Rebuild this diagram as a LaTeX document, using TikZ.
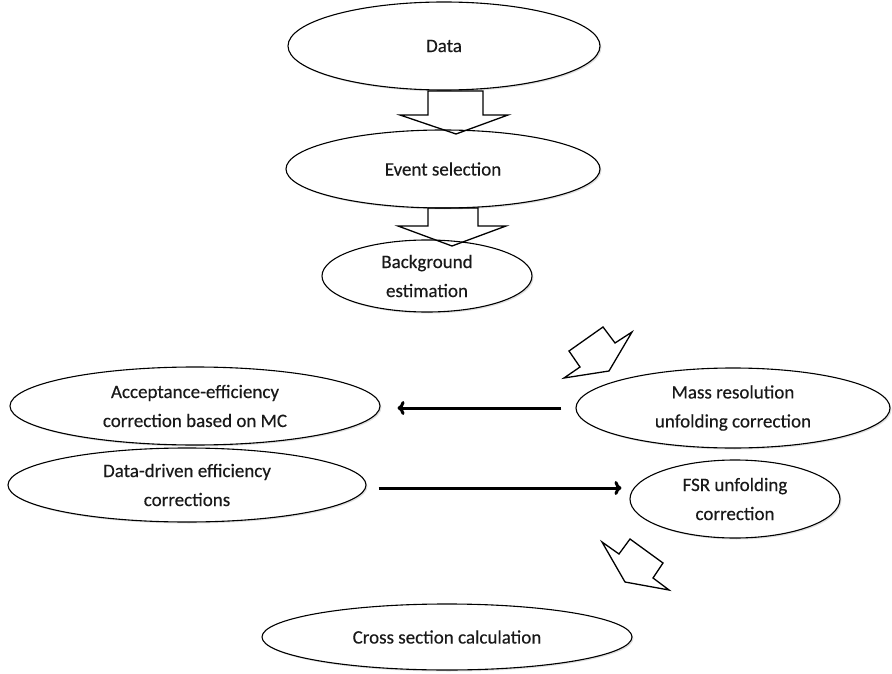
\documentclass[tikz,border=0pt]{standalone}
\usepackage{fontspec}
\setmainfont[FakeBold=0.3]{Carlito}
\usetikzlibrary{shapes.geometric,arrows.meta,calc,shadows}
\begin{document}
\begin{tikzpicture}[x=1pt,y=-1pt,
  oval/.style={ellipse, draw, fill=white, line width=1.1pt, inner sep=0pt, align=center,
    drop shadow={opacity=0.25, shadow xshift=1.5pt, shadow yshift=-1.5pt},
    font=\fontsize{19}{29}\selectfont, text=black!90},
  blockarrow/.style={draw, line width=1.3pt, line join=miter},
  flow/.style={line width=3pt, -{To[length=7pt,width=14pt]}}]
\useasboundingbox (0,0) rectangle (892,674);

\node[oval, minimum width=312pt, minimum height=88pt] (data) at (444,46) {Data};
\node[oval, minimum width=314pt, minimum height=78pt] (event) at (443,169) {Event selection};
\node[oval, minimum width=210pt, minimum height=72pt] (bkg) at (427,276) {Background\\estimation};
\node[oval, minimum width=370pt, minimum height=78pt] (accept) at (195,406) {Acceptance-efficiency\\correction based on MC};
\node[oval, minimum width=314pt, minimum height=80pt] (mass) at (733,408) {Mass resolution\\unfolding correction};
\node[oval, minimum width=358pt, minimum height=74pt] (ddriven) at (187,485) {Data-driven efficiency\\corrections};
\node[oval, minimum width=210pt, minimum height=78pt] (fsr) at (735,499) {FSR unfolding\\correction};
\node[oval, minimum width=370pt, minimum height=66pt] (xsec) at (447,637) {Cross section calculation};

% block arrows
\draw[blockarrow] (428,91) -- (483,91) -- (483,115) -- (508,115) -- (456,134) -- (400,115) -- (428,115) -- cycle;
\draw[blockarrow] (428,208) -- (478,208) -- (478,226) -- (506,226) -- (452,246) -- (398,226) -- (428,226) -- cycle;
\draw[blockarrow] (603,327) -- (615,343) -- (632,332) -- (609,371) -- (564,378) -- (580,367) -- (569,351) -- cycle;
\draw[blockarrow] (630,539) -- (663,563) -- (653,578) -- (669,590) -- (625,582) -- (602,542) -- (619,554) -- cycle;

% connectors
\draw[flow] ($(mass.west)+(-14,0)$) -- ($(accept.east |- mass.west)+(17,0)$);
\draw[flow] ($(ddriven.east)+(12,3)$) -- ($(fsr.west)+(-8,-11)$);
\end{tikzpicture}
\end{document}
